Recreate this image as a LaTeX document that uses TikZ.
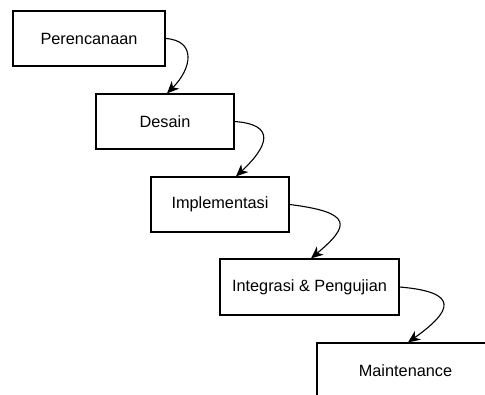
\documentclass[tikz,border=0pt]{standalone}
\usepackage{fontspec}
\setmainfont{Liberation Sans}
\usetikzlibrary{arrows.meta,calc}
\begin{document}
\begin{tikzpicture}[x=1pt,y=-1pt,
  box/.style={draw=black,line width=1.2pt,fill=white,rectangle,inner sep=0pt,font=\fontsize{16.3}{19}\selectfont},
  conn/.style={draw=black,line width=1.1pt,-{Stealth[length=12pt,width=10.5pt,inset=3.5pt]}}]
\clip (0,0) rectangle (485,394);
\fill[white] (0,0) rectangle (485,394);
\node[box,minimum width=152pt,minimum height=55pt] (b1) at (89,38.5) {Perencanaan};
\node[box,minimum width=138pt,minimum height=55pt] (b2) at (165,121.5) {Desain};
\node[box,minimum width=138pt,minimum height=55pt] (b3) at (220,204.5) {Implementasi};
\node[box,minimum width=179pt,minimum height=56pt] (b4) at (309.5,287) {Integrasi \& Pengujian};
\node[box,minimum width=177pt,minimum height=56pt] (b5) at (405.5,371) {Maintenance};
\coordinate (t2) at ([xshift=2pt]b2.north);
\coordinate (t3) at ([xshift=16pt]b3.north);
\coordinate (t4) at ([xshift=1.5pt]b4.north);
\coordinate (t5) at ([xshift=2.5pt]b5.north);
\draw[conn] (b1.east) .. controls +(31,2) and +(25,-25) .. (t2);
\draw[conn] (b2.east) .. controls +(42,3) and +(32,-30) .. (t3);
\draw[conn] (b3.east) .. controls +(65,8) and +(38,-32) .. (t4);
\draw[conn] (b4.east) .. controls +(60,5) and +(45,-32) .. (t5);
\end{tikzpicture}
\end{document}
